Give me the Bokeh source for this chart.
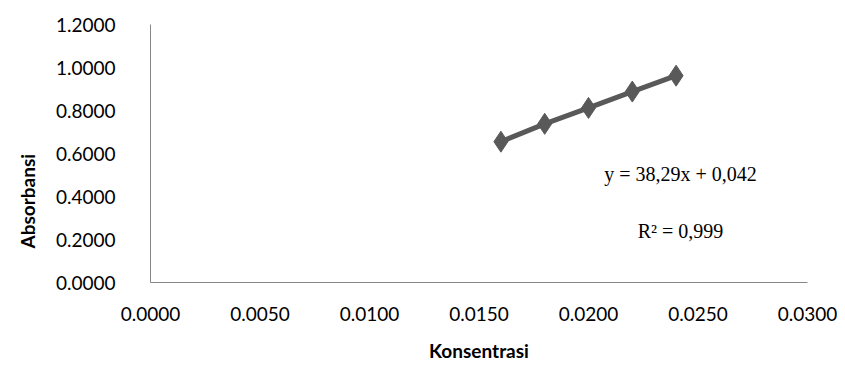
from bokeh.plotting import figure
from bokeh.models import Range1d, FixedTicker, Label, Title, CustomJSTickFormatter
from bokeh.embed import file_html
from bokeh.resources import INLINE

konsentrasi = [0.016, 0.018, 0.020, 0.022, 0.024]
absorbansi = [0.655, 0.738, 0.812, 0.888, 0.962]
x_ticks = [0.0, 0.005, 0.010, 0.015, 0.020, 0.025, 0.030]
y_ticks = [0.0, 0.2, 0.4, 0.6, 0.8, 1.0, 1.2]
equation = "y = 38,29x + 0,042"
r2_text = "R² = 0,999"

p = figure(width=837, height=366, output_backend="svg", toolbar_location=None,
           x_range=Range1d(0, 0.03), y_range=Range1d(0, 1.2),
           min_border_left=148, min_border_right=30, min_border_top=24, min_border_bottom=84)
p.outline_line_color = None
p.xgrid.visible = False
p.ygrid.visible = False
p.background_fill_color = "white"

font = "Lato"
for ax in (p.xaxis, p.yaxis):
    ax.axis_line_color = "#868686"
    ax.axis_line_width = 1
    ax.major_tick_line_color = None
    ax.minor_tick_line_color = None
    ax.major_label_text_font = font
    ax.major_label_text_font_size = "19px"
    ax.major_label_text_color = "black"
    ax.axis_label_text_font = font
    ax.axis_label_text_font_style = "bold"
    ax.axis_label_text_font_size = "19px"
    ax.axis_label_text_color = "black"

p.xaxis.ticker = FixedTicker(ticks=x_ticks)
p.yaxis.ticker = FixedTicker(ticks=y_ticks)
p.xaxis.formatter = CustomJSTickFormatter(code="return tick.toFixed(4);")
p.yaxis.formatter = CustomJSTickFormatter(code="return tick.toFixed(4);")
p.xaxis.axis_label = "Konsentrasi"
p.xaxis.major_label_standoff = 18
p.yaxis.major_label_standoff = 29
p.xaxis.axis_label_standoff = 15

# y-axis title, shifted below the axis middle as in the reference
p.add_layout(Title(text="Absorbansi", align="left", offset=34, standoff=27,
                   text_font=font, text_font_style="bold", text_font_size="19px",
                   text_color="black"), "left")

p.line(konsentrasi, absorbansi, line_color="#595959", line_width=5)
p.scatter(konsentrasi, absorbansi, marker="diamond", size=21, fill_color="#595959", line_color="#595959")

p.add_layout(Label(x=0.0242, y=0.505, text=equation, text_font="Liberation Serif",
                   text_font_size="20px", text_align="center", text_baseline="middle", text_color="black"))
p.add_layout(Label(x=0.0242, y=0.240, text=r2_text, text_font="Liberation Serif",
                   text_font_size="20px", text_align="center", text_baseline="middle", text_color="black"))

open("out.html", "w").write(file_html(p, INLINE))
